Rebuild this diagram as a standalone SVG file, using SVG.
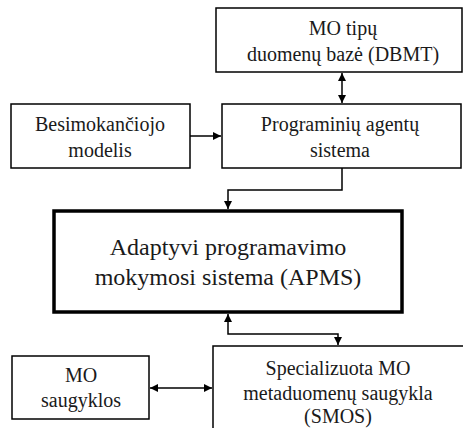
<svg xmlns="http://www.w3.org/2000/svg" width="463" height="428" viewBox="0 0 463 428">
<defs>
<style>
.box{fill:#fff;stroke:#000;stroke-width:1.5}
.main{fill:#fff;stroke:#000;stroke-width:3.5}
.c{fill:none;stroke:#000;stroke-width:1.5}
</style>
<marker id="ah" viewBox="0 0 10 10" refX="10" refY="5" markerWidth="8" markerHeight="8" markerUnits="userSpaceOnUse" orient="auto-start-reverse">
<path d="M0,0 L10,5 L0,10 Z" fill="#000"/>
</marker>
</defs>
<rect width="463" height="428" fill="#fff"/>
<g font-family="Liberation Serif, serif" font-size="20" fill="#1a1a1a" text-anchor="middle">
<g id="dbmt">
<rect class="box" x="216" y="8" width="246" height="64"/>
<text x="343" y="35">MO tipų</text>
<text x="343" y="61">duomenų bazė (DBMT)</text>
</g>
<g id="besimokanciojo">
<rect class="box" x="11" y="104" width="179" height="64"/>
<text x="100" y="131">Besimokančiojo</text>
<text x="100" y="157">modelis</text>
</g>
<g id="pas">
<rect class="box" x="222" y="104" width="239" height="64"/>
<text x="340" y="131">Programinių agentų</text>
<text x="340" y="157">sistema</text>
</g>
<g id="apms">
<rect class="main" x="54" y="211" width="348" height="101"/>
<text x="228" y="255" font-size="24">Adaptyvi programavimo</text>
<text x="228" y="285" font-size="24">mokymosi sistema (APMS)</text>
</g>
<g id="saugyklos">
<rect class="box" x="12" y="356" width="137" height="63"/>
<text x="81" y="382">MO</text>
<text x="81" y="407">saugyklos</text>
</g>
<g id="smos">
<rect class="box" x="213" y="346" width="252" height="90"/>
<text x="338" y="375">Specializuota MO</text>
<text x="338" y="400">metaduomenų saugykla</text>
<text x="338" y="423">(SMOS)</text>
</g>
</g>
<g id="connectors">
<path class="c" d="M342,73 L342,103" marker-start="url(#ah)" marker-end="url(#ah)"/>
<path class="c" d="M190,136 L221,136" marker-end="url(#ah)"/>
<path class="c" d="M342,168 L342,190 L228,190 L228,209" marker-end="url(#ah)"/>
<path class="c" d="M228,314 L228,334 L338,334 L338,345" marker-start="url(#ah)" marker-end="url(#ah)"/>
<path class="c" d="M150,388 L212,388" marker-start="url(#ah)" marker-end="url(#ah)"/>
</g>
</svg>
